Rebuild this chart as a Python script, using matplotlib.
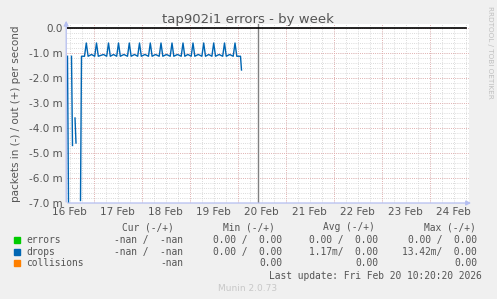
import numpy as np
import matplotlib
matplotlib.use('Agg')
import matplotlib.pyplot as plt
from matplotlib.ticker import FixedLocator

# hours since 16 Feb 00:00, values in milli-packets/s ("in" side is negative)
nan = np.nan
drops_hours = [11.0, 11.5, nan, 13.0, 13.5, nan, 14.75, 15.25, nan, 17.5, 18.0,
               19.5, 20.4, 21.3, 23.0,
               24.6, 25.5, 26.4, 29.0,
               30.6, 31.5, 32.4, 34.0,
               35.6, 36.5, 37.4, 39.2,
               41.0, 41.9, 42.8, 44.5,
               46.1, 47.0, 47.9, 49.7,
               51.5, 52.4, 53.3, 55.0,
               56.85, 57.75, 58.65, 60.5,
               62.35, 63.25, 64.15, 66.0,
               67.85, 68.75, 69.65, 71.2,
               72.85, 73.75, 74.65, 76.4,
               78.2, 79.1, 80.0, 81.6,
               83.2, 84.1, 85.0, 86.8,
               88.6, 89.5, 90.4, 92.1,
               93.85, 94.75, 95.65, 97.5, 98.0]
drops_vals = [-1.13, -7.0, nan, -1.13, -4.7, nan, -3.6, -4.6, nan, -6.9, -1.13,
              -1.13, -0.6, -1.13, -1.06,
              -1.13, -0.6, -1.13, -1.06,
              -1.13, -0.6, -1.13, -1.06,
              -1.13, -0.6, -1.13, -1.06,
              -1.13, -0.6, -1.13, -1.06,
              -1.13, -0.6, -1.13, -1.06,
              -1.13, -0.6, -1.13, -1.06,
              -1.13, -0.6, -1.13, -1.06,
              -1.13, -0.6, -1.13, -1.06,
              -1.13, -0.6, -1.13, -1.06,
              -1.13, -0.6, -1.13, -1.06,
              -1.13, -0.6, -1.13, -1.06,
              -1.13, -0.6, -1.13, -1.06,
              -1.13, -0.6, -1.13, -1.06,
              -1.13, -0.6, -1.13, -1.13, -1.68]
zero_hours = [10.75, 210.25]
zero_vals = [0.0, 0.0]
now_hour = 106.0

day_labels = ['16 Feb', '17 Feb', '18 Feb', '19 Feb', '20 Feb',
              '21 Feb', '22 Feb', '23 Feb', '24 Feb']
y_ticks = [0, -1, -2, -3, -4, -5, -6, -7]
y_labels = ['0.0', '-1.0 m', '-2.0 m', '-3.0 m', '-4.0 m', '-5.0 m', '-6.0 m', '-7.0 m']

legend_names = ['errors', 'drops', 'collisions']
legend_colors = ['#00CC00', '#0066B3', '#FF8000']
cur_col = ['-nan /  -nan', '-nan /  -nan', '-nan']
min_col = ['0.00 /  0.00', '0.00 /  0.00', '0.00']
avg_col = ['0.00 /  0.00', '1.17m/  0.00', '0.00']
max_col = ['0.00 /  0.00', '13.42m/  0.00', '0.00']

W, H = 497, 299
fig = plt.figure(figsize=(W / 100, H / 100), dpi=100, facecolor='#F0F0F0')

# plot area: x 67..469 px, y 0.0 at 28 px, -7.0 at 203 px
ymin, ymax = -7.0, 0.15
left, right, bottom = 67, 469, 203
top = bottom - (ymax - ymin) * 25
ax = fig.add_axes([left / W, 1 - bottom / H, (right - left) / W, (bottom - top) / H])
ax.set_facecolor('white')
ax.set_xlim(10.75, 10.75 + (right - left) / 2)
ax.set_ylim(ymin, ymax)

for s in ax.spines.values():
    s.set_visible(False)

# ── grid ─────────────────────────────────────────────
minor_c = '#CFCFCF'
major_c = '#E6A6A6'
dots = (0, (1, 1.6))
for h in np.arange(0, 216, 6):
    ax.axvline(h, color=minor_c, lw=0.6, ls=dots, zorder=1)
for yv in np.arange(-7.0, 0.01, 0.2):
    ax.axhline(yv, color=minor_c, lw=0.6, ls=dots, zorder=1)
for h in np.arange(24, 216, 24):
    ax.axvline(h, color=major_c, lw=0.6, ls=dots, zorder=1.5)
for yv in y_ticks:
    ax.axhline(yv, color=major_c, lw=0.6, ls=dots, zorder=1.5)

# ── ticks ────────────────────────────────────────────
ax.xaxis.set_major_locator(FixedLocator([12 + 24 * i for i in range(len(day_labels))]))
ax.set_xticklabels(day_labels)
ax.yaxis.set_major_locator(FixedLocator(y_ticks))
ax.set_yticklabels(y_labels)
ax.tick_params(axis='both', length=0, labelsize=7.5, colors='#555555', pad=3)

# ── data ─────────────────────────────────────────────
ax.plot(drops_hours, drops_vals, color='#0066B3', lw=1.0, zorder=3)
ax.plot(zero_hours, zero_vals, color='black', lw=1.2, zorder=4)
ax.axvline(now_hour, color='#808080', lw=1.0, zorder=2)

# ── axes with arrows ─────────────────────────────────
axis_c = '#B4BEF0'
ax.annotate('', xy=(1.012, 0), xytext=(-0.005, 0), xycoords='axes fraction',
            arrowprops=dict(arrowstyle='-|>', color=axis_c, lw=0.9, mutation_scale=7))
ax.annotate('', xy=(-0.002, 1.035), xytext=(-0.002, -0.01), xycoords='axes fraction',
            arrowprops=dict(arrowstyle='-|>', color=axis_c, lw=0.9, mutation_scale=7))

ax.set_ylabel('packets in (-) / out (+) per second', fontsize=7.5, color='#555555', labelpad=6)
fig.text(248 / W, 1 - 20 / H, 'tap902i1 errors - by week', ha='center', va='center',
         fontsize=9.5, color='#555555')
fig.text(490 / W, 1 - 52 / H, 'RRDTOOL / TOBI OETIKER', rotation=270, ha='center',
         va='center', fontsize=5.2, color='#C0C0C0')

# ── legend table ─────────────────────────────────────
mono = dict(family='DejaVu Sans Mono', fontsize=6.9, color='#555555', va='center')
fig.text(174 / W, 1 - 227.3 / H, 'Cur (-/+)', ha='right', **mono)
fig.text(275 / W, 1 - 227.3 / H, 'Min (-/+)', ha='right', **mono)
fig.text(375 / W, 1 - 227.3 / H, 'Avg (-/+)', ha='right', **mono)
fig.text(476 / W, 1 - 227.3 / H, 'Max (-/+)', ha='right', **mono)
row_y = [240, 251.7, 263.3]
for i, name in enumerate(legend_names):
    y = 1 - row_y[i] / H
    fig.patches.append(plt.Rectangle((14 / W, y - 3 / H), 6 / W, 6 / H,
                                     transform=fig.transFigure, color=legend_colors[i]))
    fig.text(26 / W, y, name, ha='left', **mono)
    fig.text(183 / W, y, cur_col[i], ha='right', **mono)
    fig.text(282 / W, y, min_col[i], ha='right', **mono)
    fig.text(378 / W, y, avg_col[i], ha='right', **mono)
    fig.text(477 / W, y, max_col[i], ha='right', **mono)
fig.text(482 / W, 1 - 275.7 / H, 'Last update: Fri Feb 20 10:20:20 2026', ha='right', **mono)
fig.text(248 / W, 1 - 288.3 / H, 'Munin 2.0.73', ha='center', va='center',
         fontsize=6.5, color='#C8C8C8')

fig.savefig('out.png', dpi=100, facecolor=fig.get_facecolor())
